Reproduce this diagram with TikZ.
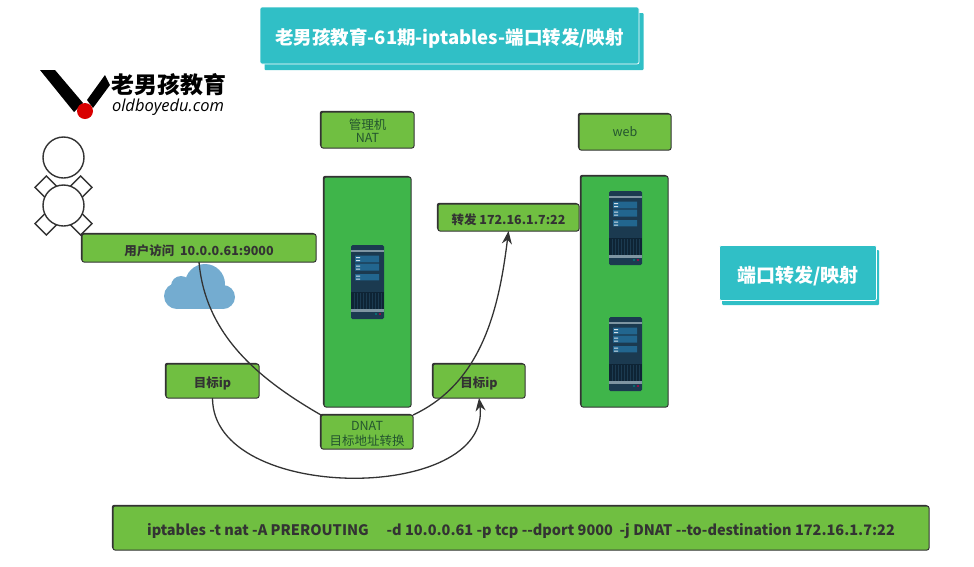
\documentclass[tikz,border=0pt]{standalone}
\usepackage{fontspec}
\setmainfont{Noto Sans CJK SC}
\newfontfamily\urlfont{Open Sans}
\usetikzlibrary{shadows,arrows.meta}
\definecolor{boxgreen}{HTML}{70BF41}
\definecolor{hostgreen}{HTML}{3FB54A}
\definecolor{boxteal}{HTML}{30BFC6}
\definecolor{boxline}{HTML}{333333}
\definecolor{labelgreen}{HTML}{24552F}
\definecolor{cloudblue}{HTML}{74ACD0}
\definecolor{srvbody}{HTML}{1B3A50}
\definecolor{srvrow}{HTML}{22668F}
\definecolor{srvbar}{HTML}{7E95A2}
\definecolor{srvgrille}{HTML}{0E2435}
\tikzset{
  plainbox/.style={draw=boxline, line width=1pt, fill=boxgreen, rounded corners=2pt, outer sep=0pt, inner sep=0pt, align=center,
    general shadow={fill=boxline, shadow xshift=-1.1pt, shadow yshift=1.1pt}, text=labelgreen, font=\fontsize{12.5}{14}\selectfont},
  greenbox/.style={plainbox, execute at begin node={\rule{0pt}{1.25em}}},
  boldbox/.style={greenbox, text=boxline, font=\fontsize{12.5}{14}\selectfont\bfseries},
  hostbox/.style={plainbox, fill=hostgreen},
  tealbox/.style={fill=boxteal, draw=white, line width=0.7pt, rounded corners=2pt, outer sep=0pt, inner sep=0pt, text=white, font=\fontsize{18.5}{20}\selectfont\bfseries,
    execute at begin node={\rule{0pt}{1.15em}}},
  tealback/.style={fill=boxteal, rounded corners=1pt, inner sep=0pt},
  limb/.style={draw=boxline, line width=1.4pt, fill=white, minimum width=16pt, minimum height=15pt, inner sep=0pt},
  person/.style={circle, draw=boxline, line width=1.4pt, fill=white, minimum size=41pt, inner sep=0pt},
  flow/.style={every edge/.append style={draw=boxline, fill=none, line width=1.3pt}},
  serverpic/.pic={
    \fill[srvbody, rounded corners=1.5pt] (0,0) rectangle (33,74);
    \fill[srvbar] (0,5) rectangle (33,6.7);
    \fill[srvrow] (4,10.7) rectangle (28,17.3) (4,18.7) rectangle (28,25.7) (4,29) rectangle (28,35.3);
    \fill[white!80!srvrow] (5,12) rectangle (9,13) (5,15) rectangle (9,16) (5,20.5) rectangle (9,21.5) (5,23.5) rectangle (9,24.5) (5,30.5) rectangle (9,31.5) (5,33.5) rectangle (9,34.5);
    \fill[srvgrille] (0,47) rectangle (33,64);
    \draw[srvbody, line width=0.7pt] (3,48) -- (3,64) (6,48) -- (6,64) (9,48) -- (9,64) (12,48) -- (12,64) (15,48) -- (15,64) (18,48) -- (18,64) (21,48) -- (21,64) (24,48) -- (24,64) (27,48) -- (27,64) (30,48) -- (30,64);
    \fill[srvbar] (0,64) rectangle (33,66.5);
    \fill[teal!70!srvbody] (24,68) rectangle (26,70);
    \fill[purple!70!srvbody] (28,68) rectangle (30,70);
  }
}
\begin{document}
\begin{tikzpicture}[x=1pt, y=-1pt, >={Stealth[length=13pt,width=10pt]}]
  \useasboundingbox (0,0) rectangle (974,566);

  % title
  \node[tealback, minimum width=379pt, minimum height=57pt] (titleback) at (454,41.5) {};
  \node[tealbox, minimum width=379pt, minimum height=57pt] (title) at (449.5,35.5) {老男孩教育-61期-iptables-端口转发/映射};
  \node[tealback, minimum width=157pt, minimum height=55pt] (sideback) at (800.5,277.5) {};
  \node[tealbox, font=\fontsize{19}{20}\selectfont\bfseries, minimum width=157pt, minimum height=55pt] (side) at (798,273) {端口转发/映射};

  % logo
  \fill[black] (40,70) -- (55,70) -- (83,103) -- (74,112) -- cycle;
  \fill[black] (105,75) -- (110,85) -- (93,108) -- (87,100) -- cycle;
  \fill[red!85!black] (85,111) circle (8);
  \node[inner sep=0pt, text=black] (logotext) at (168.5,85) {\fontsize{23}{24}\selectfont\bfseries 老男孩教育};
  \node[inner sep=0pt, text=black] (logourl) at (168,107) {\fontsize{16.5}{17}\selectfont\urlfont\itshape oldboyedu.com};

  % user
  \node[limb, rotate=45] (armtl) at (46,187) {};
  \node[limb, rotate=-45] (armtr) at (81,187) {};
  \node[limb, rotate=-45] (armbl) at (46,224) {};
  \node[limb, rotate=45] (armbr) at (81,224) {};
  \node[person] (head) at (63.5,157.5) {};
  \node[person] (body) at (63.5,205.5) {};

  % cloud
  \fill[cloudblue] (177,296) circle (13);
  \fill[cloudblue] (181,286) circle (10);
  \fill[cloudblue] (205,284) circle (20);
  \fill[cloudblue] (223,297) circle (12);
  \fill[cloudblue] (177,292) rectangle (223,309);

  % hosts
  \node[hostbox, minimum width=87pt, minimum height=230pt] (nathost) at (367.5,292) {};
  \node[hostbox, minimum width=87pt, minimum height=231pt] (webhost) at (624.5,291.5) {};
  \pic (natserver) at (351,245) {serverpic};
  \pic (webservera) at (609,191) {serverpic};
  \pic (webserverb) at (609,317) {serverpic};

  % labels
  \node[plainbox, minimum width=93pt, minimum height=36pt] (natlabel) at (367.5,130) {\rule{0pt}{11.5pt}管理机\\[-1pt]NAT};
  \node[plainbox, minimum width=92pt, minimum height=36pt] (weblabel) at (625,132) {web};
  \node[boldbox, minimum width=234pt, minimum height=28pt] (user) at (199,248) {用户访问\ \ 10.0.0.61:9000};
  \node[boldbox, minimum width=141pt, minimum height=27pt] (forward) at (508.5,217.5) {转发 172.16.1.7:22};
  \node[boldbox, minimum width=93pt, minimum height=34pt] (srcip) at (212.5,381) {目标ip};
  \node[boldbox, minimum width=92pt, minimum height=34pt] (dstip) at (479,381) {目标ip};
  \node[plainbox, minimum width=92pt, minimum height=34pt] (dnat) at (367,432) {\rule{0pt}{13.5pt}DNAT\\[1pt]目标地址转换};
  \node[boldbox, font=\fontsize{14.5}{16}\selectfont\bfseries, minimum width=816pt, minimum height=44pt] (command) at (521,528) {iptables -t nat -A PREROUTING\quad\ -d 10.0.0.61 -p tcp -{}-dport 9000\ \ -j DNAT -{}-to-destination 172.16.1.7:22};

  \path[flow]
  (user.south) edge [out=-85, in=150, looseness=0.95] (dnat.north west)
  (dnat.north east) edge [->, out=25, in=-97, looseness=0.95] (forward.south)
  (srcip.south) edge [->, out=-90, in=-83, looseness=1.02] (dstip.south);
\end{tikzpicture}
\end{document}
